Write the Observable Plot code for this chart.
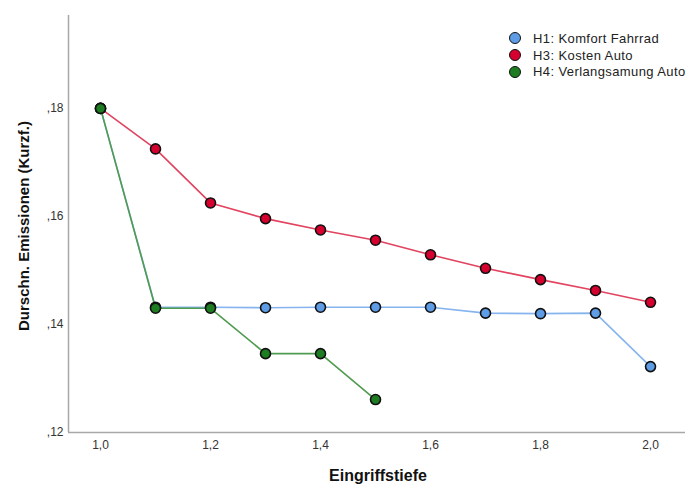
<!DOCTYPE html>
<html><head><meta charset="utf-8">
<script src="https://cdn.jsdelivr.net/npm/d3@7"></script>
<script src="https://cdn.jsdelivr.net/npm/@observablehq/plot@0.6"></script>
<style>
body{margin:0;background:#fff;font-family:"Liberation Sans",Arial,sans-serif;}
#wrap{position:relative;width:688px;height:485px;overflow:hidden;}
#legend{position:absolute;left:509px;top:30px;font-size:13px;letter-spacing:0.4px;color:#222;white-space:nowrap;}
#legend div{display:flex;align-items:center;height:16.8px;}
#legend span.sw{display:inline-block;flex:none;width:12px;height:12px;border-radius:50%;border:1.5px solid #111;margin-right:12px;box-sizing:border-box;}
</style></head><body>
<div id="wrap"><div id="chart"></div><div id="legend"></div></div>
<script>
const series = ["H1: Komfort Fahrrad", "H3: Kosten Auto", "H4: Verlangsamung Auto"];
const lineColors = ["#86b4ee", "#e2435f", "#4f9b4f"];
const dotColors = ["#5e9de6", "#d6002f", "#1e7d22"];
const xH1 = [1.0, 1.1, 1.2, 1.3, 1.4, 1.5, 1.6, 1.7, 1.8, 1.9, 2.0];
const yH1 = [0.180, 0.1432, 0.1432, 0.1431, 0.1432, 0.1432, 0.1432, 0.1421, 0.1420, 0.1421, 0.1322];
const xH3 = [1.0, 1.1, 1.2, 1.3, 1.4, 1.5, 1.6, 1.7, 1.8, 1.9, 2.0];
const yH3 = [0.180, 0.1725, 0.1625, 0.1596, 0.1575, 0.1556, 0.1529, 0.1504, 0.1483, 0.1463, 0.1441];
const xH4 = [1.0, 1.1, 1.2, 1.3, 1.4, 1.5];
const yH4 = [0.180, 0.1430, 0.1430, 0.1346, 0.1346, 0.1261];
const xTicks = [1.0, 1.2, 1.4, 1.6, 1.8, 2.0];
const yTicks = [0.12, 0.14, 0.16, 0.18];
const xDomain = [0.9418, 2.0636];
const yDomain = [0.12, 0.1972];

const data = [];
[[xH1, yH1], [xH3, yH3], [xH4, yH4]].forEach(([xs, ys], i) => {
  xs.forEach((x, j) => data.push({series: series[i], x, y: ys[j]}));
});

const fmtX = d => d3.format(".1f")(d).replace(".", ",");
const fmtY = d => d3.format(".2f")(d).replace("0.", ",").replace(".", ",");

const chart = Plot.plot({
  width: 688, height: 485,
  marginLeft: 68, marginRight: 3, marginTop: 15, marginBottom: 53,
  style: {fontFamily: "Liberation Sans, Arial, sans-serif", fontSize: "12px", color: "#333", background: "#fff"},
  x: {domain: xDomain, ticks: xTicks, tickFormat: fmtX, tickSize: 0, tickPadding: 8, label: null},
  y: {domain: yDomain, ticks: yTicks, tickFormat: fmtY, tickSize: 0, tickPadding: 5, label: null},
  color: {domain: series, range: lineColors},
  marks: [
    Plot.ruleX([xDomain[0]], {stroke: "#a8a8a8", strokeWidth: 1.5}),
    Plot.ruleY([yDomain[0]], {stroke: "#a8a8a8", strokeWidth: 1.5}),
    Plot.line(data, {x: "x", y: "y", z: "series", stroke: "series", strokeWidth: 1.6}),
    Plot.dot(data, {x: "x", y: "y", r: 5, fill: d => dotColors[series.indexOf(d.series)], stroke: "#111", strokeWidth: 1.6})
  ]
});
document.getElementById("chart").appendChild(chart);

const svg = d3.select(chart);
svg.append("text").attr("transform", "translate(29,226) rotate(-90)")
  .attr("text-anchor", "middle").attr("font-size", "15px").attr("font-weight", "bold")
  .attr("fill", "#111").text("Durschn. Emissionen (Kurzf.)");
svg.append("text").attr("x", 378).attr("y", 481)
  .attr("text-anchor", "middle").attr("font-size", "16px").attr("font-weight", "bold")
  .attr("fill", "#111").text("Eingriffstiefe");

const lg = document.getElementById("legend");
series.forEach((s, i) => {
  const row = document.createElement("div");
  row.innerHTML = `<span class="sw" style="background:${dotColors[i]}"></span>${s}`;
  lg.appendChild(row);
});
</script>
</body></html>
